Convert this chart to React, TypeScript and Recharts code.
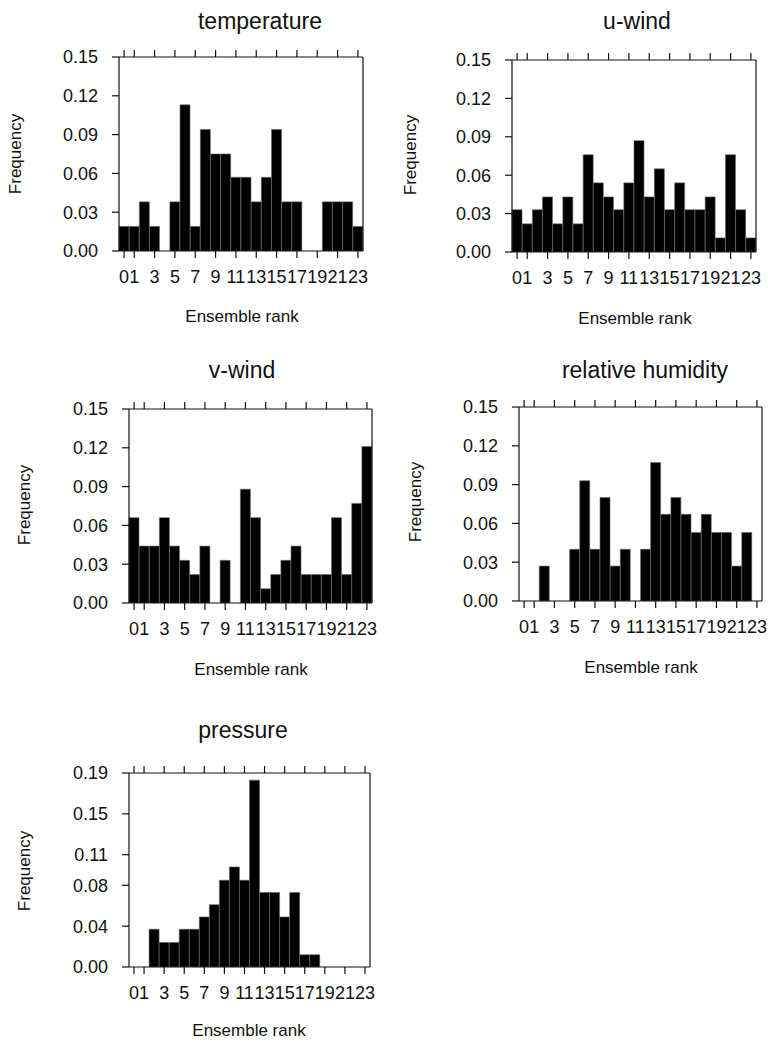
import { Bar, BarChart, XAxis, YAxis } from "recharts"

const ranks = [0, 1, 2, 3, 4, 5, 6, 7, 8, 9, 10, 11, 12, 13, 14, 15, 16, 17, 18, 19, 20, 21, 22, 23]
const rankTicks = [0, 1, 3, 5, 7, 9, 11, 13, 15, 17, 19, 21, 23]

const temperature = [0.019, 0.019, 0.038, 0.019, 0, 0.038, 0.113, 0.019, 0.094, 0.075, 0.075, 0.057, 0.057, 0.038, 0.057, 0.094, 0.038, 0.038, 0, 0, 0.038, 0.038, 0.038, 0.019]
const uWind = [0.033, 0.022, 0.033, 0.043, 0.022, 0.043, 0.022, 0.076, 0.054, 0.043, 0.033, 0.054, 0.087, 0.043, 0.065, 0.033, 0.054, 0.033, 0.033, 0.043, 0.011, 0.076, 0.033, 0.011]
const vWind = [0.066, 0.044, 0.044, 0.066, 0.044, 0.033, 0.022, 0.044, 0, 0.033, 0, 0.088, 0.066, 0.011, 0.022, 0.033, 0.044, 0.022, 0.022, 0.022, 0.066, 0.022, 0.077, 0.121]
const humidity = [0, 0, 0.027, 0, 0, 0.04, 0.093, 0.04, 0.08, 0.027, 0.04, 0, 0.04, 0.107, 0.067, 0.08, 0.067, 0.053, 0.067, 0.053, 0.053, 0.027, 0.053, 0]
const pressure = [0, 0, 0.037, 0.024, 0.024, 0.037, 0.037, 0.049, 0.061, 0.085, 0.098, 0.085, 0.183, 0.073, 0.073, 0.049, 0.073, 0.012, 0.012, 0, 0, 0, 0, 0]

const freqTicks = [0, 0.03, 0.06, 0.09, 0.12, 0.15]
const pressureTicks = [0, 0.04, 0.08, 0.11, 0.15, 0.19]

const FONT = "'Liberation Sans', Arial, Helvetica, sans-serif"
const INK = "#111"

// frame = plot box in page pixels, the *At pairs = text anchor points
const panels = [
  {
    title: "temperature", values: temperature, ticks: freqTicks,
    frame: { left: 119, top: 57, right: 363, bottom: 251 },
    titleAt: [260, 29], freqAt: [21, 154], rankAt: [242, 322],
  },
  {
    title: "u-wind", values: uWind, ticks: freqTicks,
    frame: { left: 512, top: 60, right: 756, bottom: 252 },
    titleAt: [637, 29], freqAt: [416, 155], rankAt: [635, 324],
  },
  {
    title: "v-wind", values: vWind, ticks: freqTicks,
    frame: { left: 129, top: 409, right: 372, bottom: 603 },
    titleAt: [242, 378], freqAt: [30, 505], rankAt: [251, 675],
  },
  {
    title: "relative humidity", values: humidity, ticks: freqTicks,
    frame: { left: 519, top: 407, right: 762, bottom: 601 },
    titleAt: [645, 378], freqAt: [421, 502], rankAt: [641, 673],
  },
  {
    title: "pressure", values: pressure, ticks: pressureTicks,
    frame: { left: 129, top: 773, right: 370, bottom: 967 },
    titleAt: [243, 738], freqAt: [30, 871], rankAt: [249, 1036],
  },
]

function BottomTick(props: any) {
  const { x, y, payload } = props
  if (!rankTicks.includes(payload.value)) return <g />
  return (
    <g>
      <line x1={x} y1={y} x2={x} y2={y + 7} stroke={INK} strokeWidth={1.2} />
      <text x={x} y={y + 32} textAnchor="middle" fontSize={18} fontFamily={FONT} fill={INK}>
        {payload.value}
      </text>
    </g>
  )
}

function TopTick(props: any) {
  const { x, y, payload } = props
  if (!rankTicks.includes(payload.value)) return <g />
  return <line x1={x} y1={y} x2={x} y2={y - 7} stroke={INK} strokeWidth={1.2} />
}

function Panel({ p }: { p: (typeof panels)[number] }) {
  const { frame } = p
  const width = frame.right - frame.left + 90
  const height = frame.bottom - frame.top + 60
  const data = ranks.map((r, i) => ({ rank: r, value: p.values[i] }))
  const max = p.ticks[p.ticks.length - 1]
  const line = { stroke: INK, strokeWidth: 1.2 }
  return (
    <div style={{ position: "absolute", left: frame.left - 70, top: frame.top - 20 }}>
      <BarChart
        width={width}
        height={height}
        data={data}
        margin={{ top: 10, right: 10, bottom: 10, left: 10 }}
        barCategoryGap={0}
        barGap={0}
      >
        <XAxis
          dataKey="rank"
          type="category"
          interval={0}
          height={30}
          tickSize={0}
          tickMargin={0}
          tickLine={false}
          axisLine={line}
          tick={BottomTick}
        />
        <XAxis
          xAxisId="top"
          orientation="top"
          dataKey="rank"
          type="category"
          interval={0}
          height={10}
          tickSize={0}
          tickMargin={0}
          tickLine={false}
          axisLine={line}
          tick={TopTick}
        />
        <YAxis
          type="number"
          domain={[0, max]}
          ticks={p.ticks}
          interval={0}
          width={60}
          tickSize={7}
          tickMargin={14}
          axisLine={line}
          tickLine={line}
          tick={{ fontSize: 18, fontFamily: FONT, fill: INK }}
          tickFormatter={(v: number) => v.toFixed(2)}
          allowDataOverflow
        />
        <YAxis
          yAxisId="right"
          orientation="right"
          type="number"
          domain={[0, max]}
          ticks={p.ticks}
          interval={0}
          width={10}
          tickSize={7}
          axisLine={line}
          tickLine={line}
          tickFormatter={() => ""}
        />
        <Bar dataKey="value" fill="#000" stroke="#666" strokeWidth={0.6} isAnimationActive={false} />
      </BarChart>
    </div>
  )
}

export default function App() {
  return (
    <div style={{ position: "absolute", left: 0, top: 0, width: 768, height: 1043, background: "#fff", overflow: "hidden" }}>
      {panels.map((p) => (
        <Panel key={p.title} p={p} />
      ))}
      <svg width={768} height={1043} style={{ position: "absolute", left: 0, top: 0, pointerEvents: "none" }}>
        {panels.map((p) => (
          <g key={p.title} fontFamily={FONT} fill={INK}>
            <text x={p.titleAt[0]} y={p.titleAt[1]} textAnchor="middle" fontSize={23}>
              {p.title}
            </text>
            <text
              x={p.freqAt[0]}
              y={p.freqAt[1]}
              textAnchor="middle"
              fontSize={17}
              transform={`rotate(-90, ${p.freqAt[0]}, ${p.freqAt[1]})`}
            >
              Frequency
            </text>
            <text x={p.rankAt[0]} y={p.rankAt[1]} textAnchor="middle" fontSize={17}>
              Ensemble rank
            </text>
          </g>
        ))}
      </svg>
    </div>
  )
}
